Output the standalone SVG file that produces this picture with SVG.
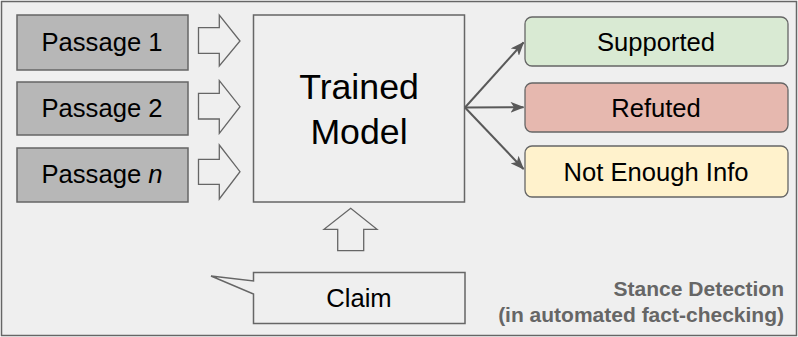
<svg xmlns="http://www.w3.org/2000/svg" width="798" height="337" viewBox="0 0 798 337">
  <defs>
    <marker id="head" viewBox="0 0 14 11" refX="13" refY="5.5" markerWidth="14" markerHeight="11" markerUnits="userSpaceOnUse" orient="auto">
      <path d="M0,0 L14,5.5 L0,11 L3.5,5.5 Z" fill="#595959"/>
    </marker>
    <style>
      .frame { fill: #efefef; stroke: #666666; stroke-width: 1.5; }
      .passage { fill: #b7b7b7; stroke: #666666; stroke-width: 1.5; }
      .plain { fill: #efefef; stroke: #666666; stroke-width: 1.5; }
      .block { fill: #efefef; stroke: #666666; stroke-width: 1.3; stroke-linejoin: miter; }
      .label { font-family: "Liberation Sans", Arial, sans-serif; font-size: 25.6px; fill: #000000; text-anchor: middle; }
      .big { font-family: "Liberation Sans", Arial, sans-serif; font-size: 35.7px; fill: #000000; text-anchor: middle; }
      .note { font-family: "Liberation Sans", Arial, sans-serif; font-size: 21px; font-weight: bold; fill: #666666; text-anchor: end; }
      .edge { fill: none; stroke: #595959; stroke-width: 2; marker-end: url(#head); }
    </style>
  </defs>

  <!-- outer frame -->
  <rect class="frame" x="1.5" y="1.5" width="795" height="334"/>

  <!-- input passages -->
  <g id="passage-1">
    <rect class="passage" x="17" y="15" width="171" height="55"/>
    <text class="label" x="102" y="51">Passage 1</text>
  </g>
  <g id="passage-2">
    <rect class="passage" x="17" y="82" width="171" height="53"/>
    <text class="label" x="102" y="117">Passage 2</text>
  </g>
  <g id="passage-n">
    <rect class="passage" x="17" y="148" width="171" height="54"/>
    <text class="label" x="102" y="183">Passage <tspan font-style="italic">n</tspan></text>
  </g>

  <!-- model -->
  <g id="trained-model">
    <rect class="plain" x="253.5" y="15" width="211" height="187"/>
    <text class="big" x="359" y="99">Trained</text>
    <text class="big" x="359" y="144">Model</text>
  </g>

  <!-- claim callout -->
  <g id="claim">
    <path class="plain" d="M253.5,272.5 H465 V323.5 H253.5 V294 L211,276 L253.5,281 Z"/>
    <text class="label" x="359" y="307">Claim</text>
  </g>

  <!-- stance labels -->
  <g id="supported">
    <rect x="525" y="17" width="263" height="49" rx="7" fill="#d9ead3" stroke="#666666" stroke-width="1.3"/>
    <text class="label" x="656" y="51">Supported</text>
  </g>
  <g id="refuted">
    <rect x="525" y="83" width="263" height="49" rx="7" fill="#e6b8af" stroke="#666666" stroke-width="1.3"/>
    <text class="label" x="656" y="117">Refuted</text>
  </g>
  <g id="not-enough-info">
    <rect x="525" y="146" width="263" height="51" rx="7" fill="#fff2cc" stroke="#666666" stroke-width="1.3"/>
    <text class="label" x="656" y="181">Not Enough Info</text>
  </g>

  <!-- caption -->
  <g id="caption">
    <text class="note" x="784" y="296">Stance Detection</text>
    <text class="note" x="784" y="322">(in automated fact-checking)</text>
  </g>

  <!-- connectors -->
  <g id="connectors">
    <!-- block arrows into the model -->
    <path class="block" d="M198.5,27.7 H219.3 V15 L240,41 L219.3,66 V53.3 H198.5 Z"/>
    <path class="block" d="M198.5,93.3 H219.3 V80.7 L240,106.7 L219.3,133.3 V119 H198.5 Z"/>
    <path class="block" d="M198.5,159.3 H219.3 V145 L240,171.7 L219.3,199 V184.3 H198.5 Z"/>
    <path class="block" d="M337.7,250.7 V229.3 H324 L350.7,208.3 L377,229.3 H363.7 V250.7 Z"/>
    <!-- model outputs -->
    <line class="edge" x1="465" y1="107.5" x2="523.5" y2="42.5"/>
    <line class="edge" x1="465" y1="107.5" x2="523.5" y2="107.3"/>
    <line class="edge" x1="465" y1="107.5" x2="523.5" y2="169"/>
  </g>
</svg>
